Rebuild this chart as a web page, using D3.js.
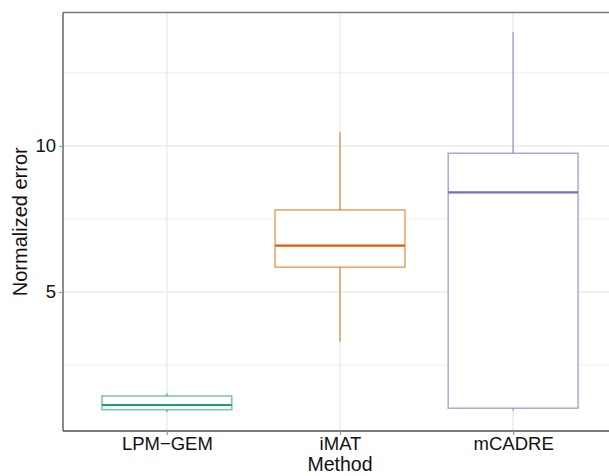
<!DOCTYPE html>
<html>
<head>
<meta charset="utf-8">
<script src="https://cdn.jsdelivr.net/npm/d3@7"></script>
<style>
  body { margin: 0; background: #fff; }
  svg { display: block; font-family: "Liberation Sans", Arial, Helvetica, sans-serif; }
</style>
</head>
<body>
<svg id="chart" width="609" height="476"></svg>
<script>
// valores
const methods = ['LPM\u2212GEM', 'iMAT', 'mCADRE']
const lowerWhisker = [0.88, 3.3, 0.93]
const q1 = [0.97, 5.85, 1.02]
const medians = [1.13, 6.59, 8.41]
const q3 = [1.44, 7.81, 9.75]
const upperWhisker = [1.53, 10.47, 13.89]
const colors = ['#1B9E77', '#D95F02', '#7570B3']
const yTicks = [5, 10]
const yMinor = [2.5, 7.5, 12.5]

const boxes = methods.map((m, i) => ({
  method: m,
  lo: lowerWhisker[i],
  q1: q1[i],
  med: medians[i],
  q3: q3[i],
  hi: upperWhisker[i],
  color: colors[i],
}))

const width = 609
const height = 476
const margins = {left: 63, top: 12.5, right: -8, bottom: 45}

const svg = d3.select('#chart')

// se expande el dominio 0.6 a cada lado como en ggplot
const xScale = d3
  .scaleLinear()
  .domain([0.4, methods.length + 0.6])
  .range([margins.left, width - margins.right])

const yScale = d3
  .scaleLinear()
  .domain([0.24, 14.57])
  .range([height - margins.bottom, margins.top])

const step = xScale(2) - xScale(1)
const boxWidth = step * 0.75

const grid = svg.append('g')
grid
  .selectAll('line.minor')
  .data(yMinor)
  .join('line')
  .attr('x1', margins.left)
  .attr('x2', width)
  .attr('y1', d => yScale(d))
  .attr('y2', d => yScale(d))
  .attr('stroke', '#f0f0f0')
  .attr('stroke-width', 1.2)
grid
  .selectAll('line.major')
  .data(yTicks)
  .join('line')
  .attr('x1', margins.left)
  .attr('x2', width)
  .attr('y1', d => yScale(d))
  .attr('y2', d => yScale(d))
  .attr('stroke', '#ebebeb')
  .attr('stroke-width', 1.4)
grid
  .selectAll('line.vert')
  .data(methods.map((m, i) => i + 1))
  .join('line')
  .attr('x1', d => xScale(d))
  .attr('x2', d => xScale(d))
  .attr('y1', margins.top)
  .attr('y2', height - margins.bottom)
  .attr('stroke', '#ebebeb')
  .attr('stroke-width', 1.4)

const g = svg
  .append('g')
  .selectAll('g')
  .data(boxes)
  .join('g')

g.append('line')
  .attr('x1', (d, i) => xScale(i + 1))
  .attr('x2', (d, i) => xScale(i + 1))
  .attr('y1', d => yScale(d.hi))
  .attr('y2', d => yScale(d.q3))
  .attr('stroke', d => d.color)
  .attr('stroke-opacity', 0.6)
  .attr('stroke-width', 1.5)
g.append('line')
  .attr('x1', (d, i) => xScale(i + 1))
  .attr('x2', (d, i) => xScale(i + 1))
  .attr('y1', d => yScale(d.q1))
  .attr('y2', d => yScale(d.lo))
  .attr('stroke', d => d.color)
  .attr('stroke-opacity', 0.6)
  .attr('stroke-width', 1.5)
g.append('rect')
  .attr('x', (d, i) => xScale(i + 1) - boxWidth / 2)
  .attr('width', boxWidth)
  .attr('y', d => yScale(d.q3))
  .attr('height', d => yScale(d.q1) - yScale(d.q3))
  .attr('fill', 'white')
  .attr('stroke', d => d.color)
  .attr('stroke-opacity', 0.6)
  .attr('stroke-width', 1.5)
g.append('line')
  .attr('x1', (d, i) => xScale(i + 1) - boxWidth / 2)
  .attr('x2', (d, i) => xScale(i + 1) + boxWidth / 2)
  .attr('y1', d => yScale(d.med))
  .attr('y2', d => yScale(d.med))
  .attr('stroke', d => d.color)
  .attr('stroke-width', 2.2)

// borde superior del panel
svg
  .append('line')
  .attr('x1', margins.left)
  .attr('x2', width)
  .attr('y1', margins.top)
  .attr('y2', margins.top)
  .attr('stroke', '#7a7a7a')
  .attr('stroke-width', 1.4)

const yAxis = d3
  .axisLeft(yScale)
  .tickValues(yTicks)
  .tickSize(4)
  .tickPadding(3)
  .tickFormat(d3.format('d'))
const xAxis = d3
  .axisBottom(xScale)
  .tickValues([1, 2, 3])
  .tickSize(4)
  .tickPadding(1.5)
  .tickFormat(d => methods[d - 1])

const yG = svg
  .append('g')
  .attr('transform', `translate(${margins.left},0)`)
  .call(yAxis)
const xG = svg
  .append('g')
  .attr('transform', `translate(0,${height - margins.bottom})`)
  .call(xAxis)

for (const ax of [yG, xG]) {
  ax.select('.domain').attr('stroke', '#4d4d4d').attr('stroke-width', 1.3)
  ax.selectAll('.tick line').attr('stroke', '#999').attr('stroke-width', 1.2)
  ax.selectAll('.tick text')
    .attr('fill', '#111')
    .attr('font-size', 18.5)
    .attr('font-family', '"Liberation Sans", Arial, sans-serif')
}
yG.select('.domain').attr('d', `M0,${margins.top}V${height - margins.bottom}`)
xG.select('.domain').attr('d', `M${margins.left},0H${width}`)

svg
  .append('text')
  .attr('x', 340)
  .attr('y', 471)
  .attr('text-anchor', 'middle')
  .attr('font-size', 19.5)
  .attr('fill', '#111')
  .text('Method')

svg
  .append('text')
  .attr('transform', `translate(26.5,${(margins.top + height - margins.bottom) / 2}) rotate(-90)`)
  .attr('text-anchor', 'middle')
  .attr('font-size', 20)
  .attr('fill', '#111')
  .text('Normalized error')
</script>
</body>
</html>
